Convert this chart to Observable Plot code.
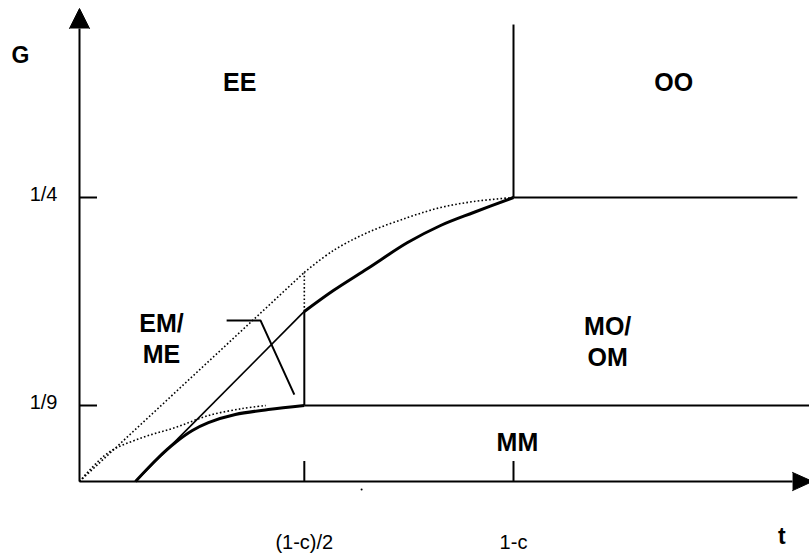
<!DOCTYPE html>
<html><head><meta charset="utf-8">
<script src="https://cdn.jsdelivr.net/npm/d3@7"></script>
<script src="https://cdn.jsdelivr.net/npm/@observablehq/plot@0.6"></script>
<style>
  html,body{margin:0;padding:0;background:#fff;}
  svg{display:block;}
</style>
</head><body><div id="chart"></div>
<script>
// ---- data (t axis: 1-c = 1 ; G axis in G units) ----
const gOrigin = 0.0604;           // where the drawn axes cross
const tAxisEnd = 1.643;           // end of t axis (arrow base)
const gAxisEnd = 0.3629;          // end of G axis (arrow base)

const tTicks = [0.518, 1];
const tTickLabels = ["(1-c)/2", "1-c"];
const gTicks = [1/4, 1/9];
const gTickLabels = ["1/4", "1/9"];

// upper boundary (solid, thick) between EM/ME-MO/OM and EE
const upperSolidT = [0.518, 0.585, 0.664, 0.756, 0.832, 0.908, 1.0];
const upperSolidG = [0.1739, 0.1879, 0.2026, 0.2199, 0.2313, 0.2400, 0.25];
// upper dotted curve
const upperDotT = [0.518, 0.585, 0.664, 0.756, 0.832, 0.908, 1.0];
const upperDotG = [0.2000, 0.2146, 0.2266, 0.2366, 0.2433, 0.2473, 0.25];
// lower boundary (solid, thick) MM
const lowerSolidT = [0.129, 0.182, 0.221, 0.260, 0.297, 0.359, 0.435, 0.518];
const lowerSolidG = [0.0604, 0.0764, 0.0864, 0.0944, 0.0997, 0.1051, 0.1084, 0.1111];
// lower dotted curve
const lowerDotT = [0, 0.0668, 0.145, 0.221, 0.297, 0.376, 0.429];
const lowerDotG = [0.0604, 0.0797, 0.0897, 0.0964, 0.1044, 0.1091, 0.1111];
// straight lines
const dotDiagT = [0, 0.518],      dotDiagG = [0.0604, 0.2000];
const thinDiagT = [0.129, 0.518], thinDiagG = [0.0604, 0.1739];
const dotVertT = [0.518, 0.518],  dotVertG = [0.1739, 0.2000];
const midVertT = [0.518, 0.518],  midVertG = [1/9, 0.1739];
const nineLineT = [0.518, 1.69],  nineLineG = [1/9, 1/9];
const quarterLineT = [1, 1.654],  quarterLineG = [1/4, 1/4];
const ooVertT = [1, 1],           ooVertG = [1/4, 0.3655];
const pointerT = [0.339, 0.417, 0.495], pointerG = [0.1679, 0.1679, 0.1184];
// arrow heads
const yArrowT = [-0.023, 0, 0.023], yArrowG = [0.3629, 0.3762, 0.3629];
const xArrowT = [1.643, 1.689, 1.643], xArrowG = [0.0664, 0.0604, 0.0543];

// region labels
const regionLabels = ["EE", "OO", "EM/\nME", "MO/\nOM", "MM"];
const regionT = [0.369, 1.369, 0.189, 1.217, 1.009];
const regionG = [0.3281, 0.3281, 0.1565, 0.1545, 0.0871];

const axisLabels = ["G", "t"];
const axisLabelT = [-0.136, 1.618];
const axisLabelG = [0.3448, 0.0236];

// ---- helpers ----
const pts = (ts, gs) => ts.map((t, i) => ({t, g: gs[i]}));
const font = "'Liberation Sans', Arial, Helvetica, sans-serif";
const solid = (ts, gs, w, curve) => Plot.line(pts(ts, gs), {x: "t", y: "g", stroke: "black", strokeWidth: w, curve: curve || "linear", strokeLinecap: "butt"});
const dotted = (ts, gs, curve) => Plot.line(pts(ts, gs), {x: "t", y: "g", stroke: "black", strokeWidth: 1.6, strokeDasharray: "1.6,2.2", strokeLinecap: "butt", curve: curve || "linear"});

const chart = Plot.plot({
  width: 809,
  height: 554,
  margin: 0,
  style: {background: "#fff", fontFamily: font, overflow: "hidden"},
  x: {domain: [0, 1], range: [79, 513], axis: null},
  y: {domain: [1/9, 1/4], range: [405, 197], axis: null},
  marks: [
    // axes
    solid([0, 0], [gOrigin, gAxisEnd], 2),
    solid([0, tAxisEnd], [gOrigin, gOrigin], 2),
    Plot.line(pts(yArrowT, yArrowG), {x: "t", y: "g", fill: "black", stroke: "black", strokeWidth: 1}),
    Plot.line(pts(xArrowT, xArrowG), {x: "t", y: "g", fill: "black", stroke: "black", strokeWidth: 1}),
    Plot.ruleY(gTicks, {y: d => d, x1: 0, x2: 0.0415, stroke: "black", strokeWidth: 2}),
    Plot.ruleX(tTicks, {x: d => d, y1: gOrigin, y2: 0.0737, stroke: "black", strokeWidth: 2}),
    Plot.text(gTickLabels, {x: -0.0507, y: (d, i) => gTicks[i], text: d => d, textAnchor: "end", lineAnchor: "middle", dy: -3, fontSize: 20, fill: "black"}),
    Plot.text(tTickLabels, {x: (d, i) => tTicks[i], y: gOrigin, text: d => d, textAnchor: "middle", lineAnchor: "middle", dy: 61, fontSize: 20, fill: "black"}),
    Plot.text(axisLabels, {x: (d, i) => axisLabelT[i], y: (d, i) => axisLabelG[i], text: d => d, textAnchor: "middle", lineAnchor: "middle", fontSize: 23, fontWeight: "bold", fill: "black"}),
    // dotted curves
    dotted(dotDiagT, dotDiagG),
    dotted(dotVertT, dotVertG),
    dotted(upperDotT, upperDotG, "catmull-rom"),
    dotted(lowerDotT, lowerDotG, "catmull-rom"),
    // boundaries
    solid(thinDiagT, thinDiagG, 1.7),
    solid(midVertT, midVertG, 2),
    solid(nineLineT, nineLineG, 2),
    solid(quarterLineT, quarterLineG, 2),
    solid(ooVertT, ooVertG, 2),
    solid(upperSolidT, upperSolidG, 3, "catmull-rom"),
    solid(lowerSolidT, lowerSolidG, 3, "catmull-rom"),
    solid(pointerT, pointerG, 2),
    // stray mark on the t axis
    Plot.dot([0.65], {x: d => d, y: gOrigin, dy: 8, r: 1, fill: "black", stroke: "none"}),
    // region labels
    Plot.text(regionLabels, {x: (d, i) => regionT[i], y: (d, i) => regionG[i], text: d => d, textAnchor: "middle", lineAnchor: "middle", lineHeight: 1.25, fontSize: 25, fontWeight: "bold", fill: "black"})
  ]
});
document.getElementById("chart").appendChild(chart);
</script>
</body></html>
